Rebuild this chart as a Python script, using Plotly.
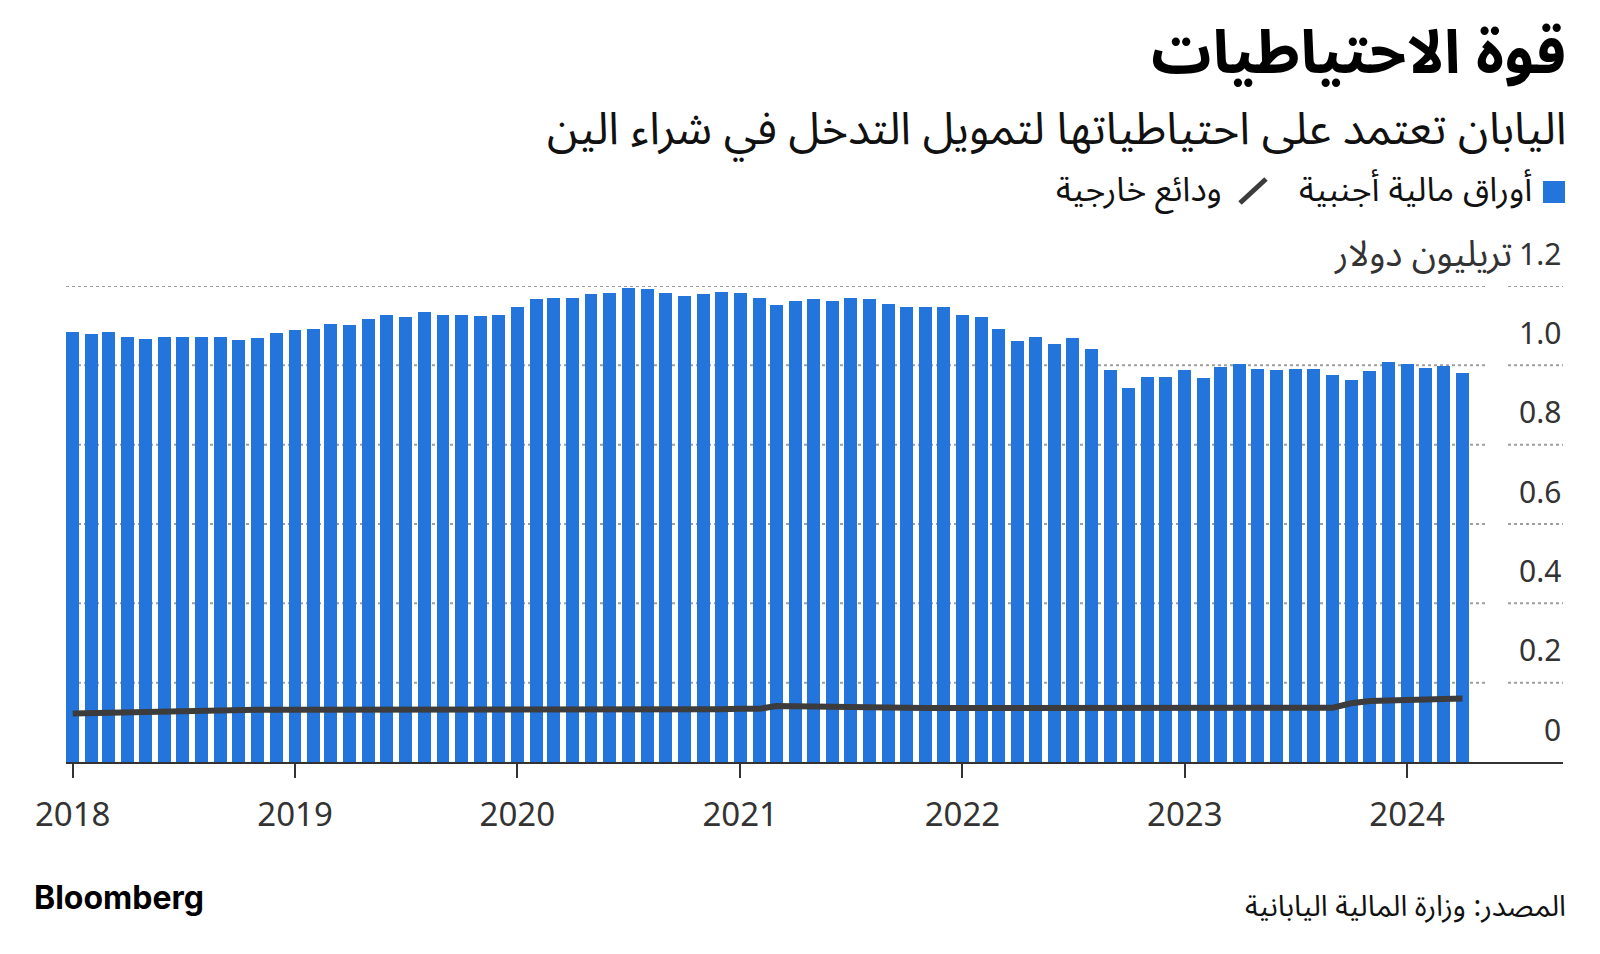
import pandas as pd
import plotly.graph_objects as go

# ---------------- data ----------------
months = pd.date_range("2018-01-01", "2024-04-01", freq="MS")

securities = [
    1.085, 1.079, 1.084, 1.072, 1.067, 1.072, 1.071, 1.071, 1.071, 1.064, 1.070, 1.081,  # 2018
    1.088, 1.091, 1.103, 1.102, 1.116, 1.128, 1.123, 1.134, 1.127, 1.128, 1.124, 1.128,  # 2019
    1.148, 1.166, 1.171, 1.171, 1.180, 1.183, 1.196, 1.192, 1.183, 1.176, 1.179, 1.184,  # 2020
    1.182, 1.171, 1.151, 1.161, 1.166, 1.161, 1.169, 1.166, 1.154, 1.147, 1.147, 1.147,  # 2021
    1.128, 1.123, 1.092, 1.061, 1.071, 1.055, 1.069, 1.040, 0.989, 0.944, 0.971, 0.971,  # 2022
    0.989, 0.968, 0.996, 1.003, 0.992, 0.987, 0.992, 0.990, 0.976, 0.964, 0.985, 1.008,  # 2023
    1.004, 0.993, 0.998, 0.980,                                                          # 2024
]

deposits = [
    0.122, 0.123, 0.124, 0.125, 0.126, 0.128, 0.131, 0.132, 0.132, 0.132, 0.132, 0.132,
    0.132, 0.132, 0.132, 0.132, 0.132, 0.132, 0.132, 0.132, 0.132, 0.131, 0.130, 0.130,
    0.130, 0.130, 0.130, 0.130, 0.130, 0.130, 0.130, 0.130, 0.131, 0.132, 0.133, 0.133,
    0.134, 0.134, 0.141, 0.140, 0.140, 0.139, 0.138, 0.137, 0.136, 0.136, 0.136, 0.136,
    0.136, 0.136, 0.136, 0.136, 0.136, 0.136, 0.136, 0.136, 0.136, 0.136, 0.136, 0.136,
    0.136, 0.136, 0.136, 0.136, 0.136, 0.136, 0.136, 0.136, 0.137, 0.148, 0.154, 0.155,
    0.157, 0.158, 0.159, 0.160,
]

year_ticks = ["2018-01-01", "2019-01-01", "2020-01-01", "2021-01-01",
              "2022-01-01", "2023-01-01", "2024-01-01"]
year_labels = ["2018", "2019", "2020", "2021", "2022", "2023", "2024"]

y_ticks = [0, 0.2, 0.4, 0.6, 0.8, 1.0]
y_labels = ["0", "0.2", "0.4", "0.6", "0.8", "1.0"]
y_top = 1.2
y_top_label = "1.2"
unit_label = "تريليون دولار"

title = "قوة الاحتياطيات"
subtitle = "اليابان تعتمد على احتياطياتها لتمويل التدخل في شراء الين"
legend_sec = "أوراق مالية أجنبية"
legend_dep = "ودائع خارجية"
source = "المصدر: وزارة المالية اليابانية"
brand = "Bloomberg"

# ---------------- style ----------------
W, H = 1600, 954
L, R, T, B = 66, 1563, 286, 762
BLUE = "#2374DB"
DARK = "#3c3c3c"
TXT = "#333333"
GRID = "#9e9e9e"
AR = "Noto Sans Arabic, DejaVu Sans, sans-serif"
NUM = "Noto Sans, sans-serif"


def px(x):
    return (x - L) / (R - L)


def py(y):
    return (B - y) / (B - T)


fig = go.Figure()
fig.add_trace(go.Bar(
    x=months, y=securities, marker=dict(color=BLUE, line=dict(width=0)),
    width=[21.3 * 86400000] * len(months), hoverinfo="skip", showlegend=False,
))
fig.add_trace(go.Scatter(
    x=months, y=deposits, mode="lines", line=dict(color=DARK, width=6),
    hoverinfo="skip", showlegend=False,
))

shapes = []
for v in y_ticks[1:] + [y_top]:
    for x0, x1 in [(L, 1485), (1508, R)]:
        shapes.append(dict(type="line", xref="paper", yref="y", x0=px(x0), x1=px(x1),
                           y0=v, y1=v, line=dict(color=GRID, width=2, dash="dot"),
                           layer="below"))
# legend symbols
shapes.append(dict(type="rect", xref="paper", yref="paper", x0=px(1543), x1=px(1565),
                   y0=py(203), y1=py(181), fillcolor=BLUE, line=dict(width=0)))
shapes.append(dict(type="line", xref="paper", yref="paper", x0=px(1240), x1=px(1266),
                   y0=py(203), y1=py(179), line=dict(color=DARK, width=5)))

ann = []
ann.append(dict(text=f"<b>{title}</b>", x=px(1568), y=py(54), xref="paper", yref="paper",
                xanchor="right", yanchor="middle", showarrow=False,
                font=dict(family=AR, size=60, color="#000")))
ann.append(dict(text=subtitle, x=px(1568), y=py(129), xref="paper", yref="paper",
                xanchor="right", yanchor="middle", showarrow=False,
                font=dict(family=AR, size=45, color="#111")))
ann.append(dict(text=legend_sec, x=px(1534), y=py(190), xref="paper", yref="paper",
                xanchor="right", yanchor="middle", showarrow=False,
                font=dict(family=AR, size=34, color="#111")))
ann.append(dict(text=legend_dep, x=px(1224), y=py(190), xref="paper", yref="paper",
                xanchor="right", yanchor="middle", showarrow=False,
                font=dict(family=AR, size=34, color="#111")))
for v, t in zip(y_ticks, y_labels):
    ann.append(dict(text=t, x=1, y=v, xref="paper", yref="y", xanchor="right",
                    yanchor="middle", yshift=33, showarrow=False,
                    font=dict(family=NUM, size=30, color=TXT)))
ann.append(dict(text=y_top_label, x=1, y=y_top, xref="paper", yref="y", xanchor="right",
                yanchor="middle", yshift=33, showarrow=False,
                font=dict(family=NUM, size=30, color=TXT)))
ann.append(dict(text=unit_label, x=px(1514), y=y_top, xref="paper", yref="y",
                xanchor="right", yanchor="middle", yshift=31, showarrow=False,
                font=dict(family=AR, size=36, color=TXT)))
ann.append(dict(text=f"<b>{brand}</b>", x=px(32), y=py(898), xref="paper", yref="paper",
                xanchor="left", yanchor="middle", showarrow=False,
                font=dict(family="Inter, Roboto, sans-serif", size=32, color="#000")))
ann.append(dict(text=source, x=px(1568), y=py(906), xref="paper", yref="paper",
                xanchor="right", yanchor="middle", showarrow=False,
                font=dict(family=AR, size=29, color="#111")))

fig.update_layout(
    width=W, height=H,
    margin=dict(l=L, r=W - R, t=T, b=H - B, pad=0),
    paper_bgcolor="white", plot_bgcolor="white",
    bargap=0, barmode="overlay",
    shapes=shapes, annotations=ann,
    xaxis=dict(type="date", range=["2017-12-21", "2024-09-13"],
               tickmode="array", tickvals=year_ticks, ticktext=year_labels,
               ticks="outside", ticklen=14, tickwidth=2, tickcolor=TXT,
               showline=True, linecolor=TXT, linewidth=2, showgrid=False, zeroline=False,
               tickfont=dict(family=NUM, size=33, color=TXT), ticklabelstandoff=8),
    yaxis=dict(range=[0, 1.2], showgrid=False, zeroline=False, showticklabels=False,
               showline=False, ticks=""),
)

fig.write_html("out.html", config={"displayModeBar": False},
               post_script="document.body.style.margin='0';")
